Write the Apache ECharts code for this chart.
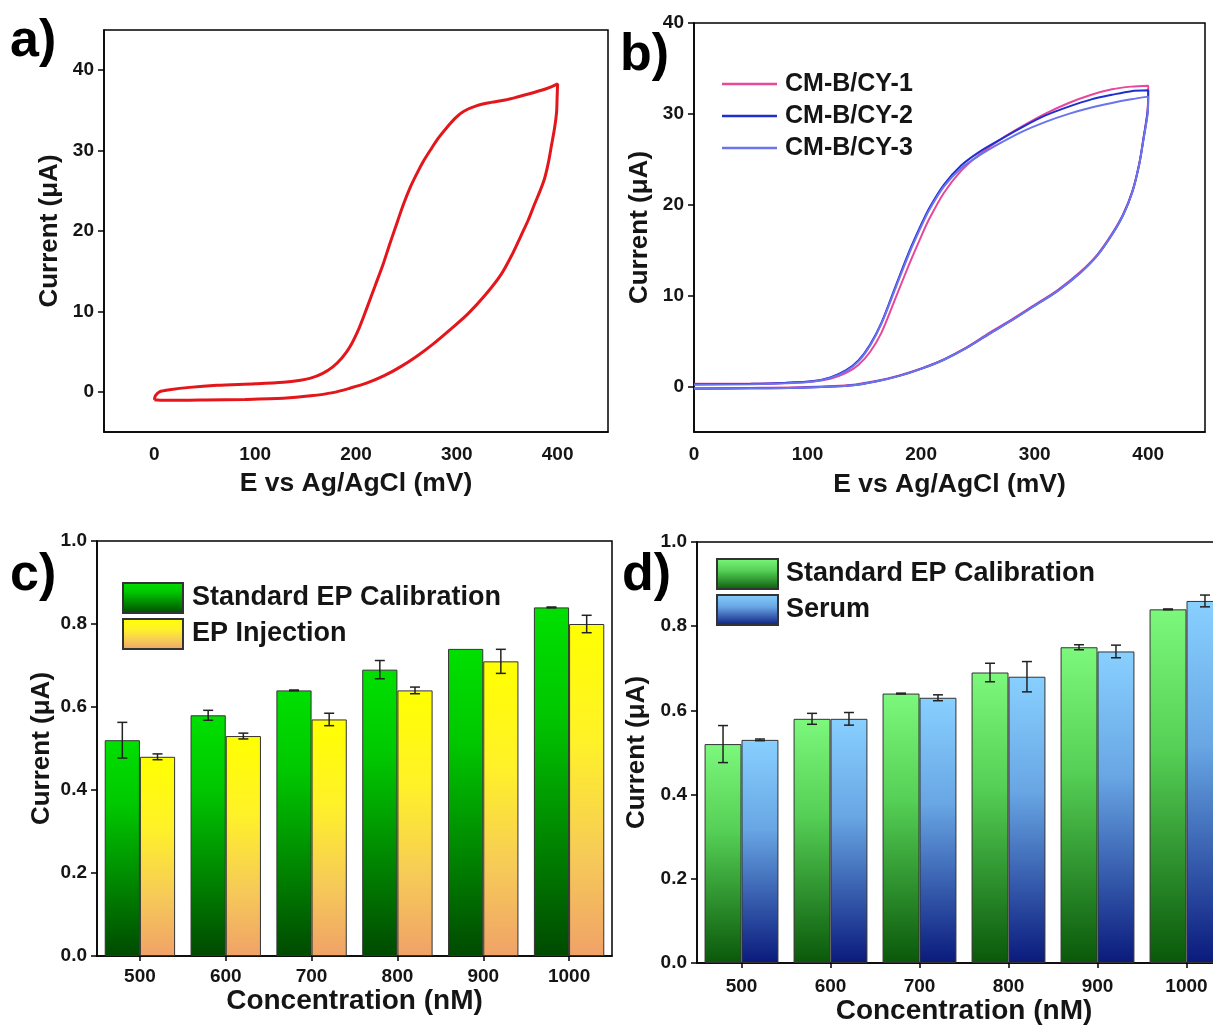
<!DOCTYPE html>
<html lang="en">
<head>
<meta charset="UTF-8">
<title>cv-and-bars</title>
<script src="https://cdn.jsdelivr.net/npm/echarts/dist/echarts.min.js"></script>
<style>html,body{margin:0;padding:0;background:#fff;}</style>
</head>
<body>
<div id="main" style="width:1213px;height:1025px;"></div>
<script>
// ---- panel a: single CV loop [E (mV), I (uA)]
var aForward = [[0,-1.0],[1,-0.5],[5,0.0],[15,0.25],[35,0.55],[62,0.8],[100,1.0],[128,1.2],[145,1.45],[155,1.7],[167,2.3],[177,3.1],[186,4.2],[194,5.6],[203,7.9],[211,10.5],[219,13.2],[227,15.9],[233,18.2],[239,20.4],[247,23.3],[254,25.5],[261,27.3],[267,28.7],[274,30.1],[282,31.6],[291,33.0],[299,34.1],[307,34.9],[320,35.6],[334,36.0],[348,36.3],[361,36.7],[373,37.1],[384,37.5],[393,37.9],[400,38.3]];
var aReverse = [[400,38.3],[399.5,36.5],[399,34.8],[397,32.8],[394,30.7],[391,28.6],[387,26.5],[382,24.8],[377,23.3],[371,21.4],[364,19.5],[355,17.1],[344,14.6],[328,12.0],[311,9.7],[294,7.8],[277,6.0],[260,4.4],[244,3.1],[228,2.0],[211,1.1],[194,0.45],[177,-0.1],[155,-0.5],[128,-0.8],[90,-0.95],[50,-1.02],[28,-1.05],[8,-1.05],[2,-1.02],[0,-1.0]];

// ---- panel b: three CV loops
var bNames = ['CM-B/CY-1', 'CM-B/CY-2', 'CM-B/CY-3'];
var b1Forward = [[0,0.3],[50,0.32],[80,0.4],[105,0.55],[120,0.85],[134,1.5],[145,2.4],[155,3.8],[165,5.9],[178,9.9],[190,13.6],[200,16.5],[207,18.4],[220,21.3],[235,23.7],[251,25.5],[270,27.2],[290,28.7],[309,30.0],[330,31.2],[350,32.1],[368,32.7],[385,33.0],[400,33.1]];
var b2Forward = [[0,0.25],[50,0.3],[80,0.4],[105,0.6],[120,1.0],[134,1.8],[145,2.9],[155,4.6],[165,7.0],[178,11.2],[190,15.0],[200,17.8],[207,19.6],[220,22.2],[235,24.3],[251,25.8],[270,27.2],[290,28.6],[309,29.8],[330,30.8],[350,31.6],[368,32.1],[385,32.5],[400,32.6]];
var b3Forward = [[0,0.2],[50,0.25],[80,0.35],[105,0.55],[120,0.95],[134,1.7],[145,2.8],[155,4.5],[165,6.9],[178,11.0],[190,14.8],[200,17.6],[207,19.4],[220,22.0],[235,24.0],[251,25.4],[270,26.8],[290,28.1],[309,29.1],[330,30.0],[350,30.7],[368,31.2],[385,31.6],[400,31.9]];
var b1Reverse = [[400,33.1],[399.5,30.5],[396,27.5],[392,24.5],[386,21.5],[378,19.0],[368,16.8],[355,14.5],[340,12.6],[320,10.6],[300,9.0],[280,7.4],[260,5.9],[240,4.3],[220,3.0],[200,2.0],[180,1.2],[160,0.6],[140,0.2],[100,-0.05],[50,-0.15],[0,-0.2]];
var b2Reverse = [[400,32.6],[399.5,30.3],[396,27.4],[392,24.4],[386,21.4],[378,18.9],[368,16.7],[355,14.4],[340,12.5],[320,10.5],[300,8.9],[280,7.3],[260,5.8],[240,4.25],[220,2.95],[200,1.95],[180,1.15],[160,0.55],[140,0.15],[100,-0.1],[50,-0.2],[0,-0.25]];
var b3Reverse = [[400,31.9],[399.5,30.0],[396,27.3],[392,24.4],[386,21.4],[378,18.9],[368,16.7],[355,14.4],[340,12.5],[320,10.5],[300,8.9],[280,7.3],[260,5.8],[240,4.25],[220,2.95],[200,1.95],[180,1.15],[160,0.55],[140,0.15],[100,-0.1],[50,-0.2],[0,-0.25]];

// ---- panels c, d: bars with error bars
var concLabels = ['500', '600', '700', '800', '900', '1000'];
var cStandard = [0.52, 0.58, 0.64, 0.69, 0.74, 0.84];
var cStandardErr = [0.043, 0.012, 0.001, 0.022, 0, 0.001];
var cInjection = [0.48, 0.53, 0.57, 0.64, 0.71, 0.80];
var cInjectionErr = [0.007, 0.007, 0.015, 0.008, 0.029, 0.021];
var dStandard = [0.52, 0.58, 0.64, 0.69, 0.75, 0.84];
var dStandardErr = [0.044, 0.013, 0.001, 0.022, 0.006, 0.001];
var dSerum = [0.53, 0.58, 0.63, 0.68, 0.74, 0.86];
var dSerumErr = [0.002, 0.015, 0.007, 0.036, 0.015, 0.014];

// tick labels
var cvXTicks = [0, 100, 200, 300, 400];
var aYTicks = [0, 10, 20, 30, 40];
var bYTicks = [0, 10, 20, 30, 40];

var FONT = '"Liberation Sans", Arial, sans-serif';
var INK = '#151515';
var GAP_C = 0.18, GAP_D = 0.17;

function grad(stops) {
    return new echarts.graphic.LinearGradient(0, 0, 0, 1, stops.map(function (s) {
        return {offset: s[0], color: s[1]};
    }));
}
var cGreen = grad([[0, '#00e000'], [0.3, '#00c800'], [1, '#004a00']]);
var cYellow = grad([[0, '#ffff00'], [0.35, '#fff228'], [0.7, '#f6ca58'], [1, '#f0a268']]);
var dGreen = grad([[0, '#7cf87c'], [0.4, '#55cf55'], [1, '#0a580a']]);
var dBlue = grad([[0, '#88d0ff'], [0.4, '#68a6e4'], [1, '#0a1a7c']]);

var axisLine = {show: true, onZero: false, lineStyle: {color: '#000', width: 1.5}};
var labelBase = {color: INK, fontSize: 19, fontWeight: 'bold', fontFamily: FONT};
var nameBase = {color: INK, fontSize: 24, fontWeight: 'bold', fontFamily: FONT};

function lbl(extra) { return Object.assign({}, labelBase, extra); }
function nm(size) { return Object.assign({}, nameBase, {fontSize: size}); }

function cvX(grid, min, max, gap) {
    return {
        gridIndex: grid, type: 'value', min: min, max: max,
        axisLine: axisLine, axisTick: {show: false}, splitLine: {show: false},
        axisLabel: lbl({margin: 13, customValues: cvXTicks, formatter: function (v) { return v % 100 === 0 ? v : ''; }}),
        name: 'E vs Ag/AgCl (mV)', nameLocation: 'middle', nameGap: gap, nameTextStyle: nm(26.5)
    };
}
function cvY(grid, min, max, ticks, gap) {
    return {
        gridIndex: grid, type: 'value', min: min, max: max,
        axisLine: axisLine, splitLine: {show: false},
        axisTick: {show: true, inside: false, length: 6, customValues: ticks, lineStyle: {color: '#000', width: 1.5}},
        axisLabel: lbl({margin: 10, customValues: ticks, formatter: function (v) { return v % 10 === 0 ? v : ''; }}),
        name: 'Current (\u03bcA)', nameLocation: 'middle', nameGap: gap, nameTextStyle: nm(26)
    };
}
function barX(grid, gap, margin) {
    return {
        gridIndex: grid, type: 'category', data: concLabels, boundaryGap: true,
        axisLine: axisLine, splitLine: {show: false},
        axisTick: {show: true, alignWithLabel: true, length: 5, lineStyle: {color: '#000', width: 1.5}},
        axisLabel: lbl({margin: margin}),
        name: 'Concentration (nM)', nameLocation: 'middle', nameGap: gap, nameTextStyle: nm(28)
    };
}
function barY(grid, gap) {
    return {
        gridIndex: grid, type: 'value', min: 0, max: 1, interval: 0.2,
        axisLine: axisLine, splitLine: {show: false},
        axisTick: {show: true, inside: false, length: 6, lineStyle: {color: '#000', width: 1.5}},
        axisLabel: lbl({margin: 10, formatter: function (v) { return v.toFixed(1); }}),
        name: 'Current (\u03bcA)', nameLocation: 'middle', nameGap: gap, nameTextStyle: nm(26)
    };
}

function cvLine(name, idx, pts, color, width) {
    return {
        name: name, type: 'line', xAxisIndex: idx, yAxisIndex: idx,
        data: pts, showSymbol: false, symbol: 'none', smooth: 0.3,
        lineStyle: {color: color, width: width}, itemStyle: {color: color}
    };
}
function bars(name, idx, vals, fill, gap) {
    return {
        name: name, type: 'bar', xAxisIndex: idx, yAxisIndex: idx, data: vals,
        barGap: '0%', barCategoryGap: (gap * 100) + '%',
        itemStyle: {color: fill, borderColor: '#333', borderWidth: 1}
    };
}
// error bars drawn at the centre of the left (side=-1) or right (side=1) bar
function errBars(idx, vals, errs, side, gap) {
    return {
        type: 'custom', xAxisIndex: idx, yAxisIndex: idx, z: 10, silent: true,
        encode: {x: 0, y: 1},
        data: vals.map(function (v, i) { return [i, v, errs[i]]; }),
        renderItem: function (params, api) {
            var e = api.value(2);
            if (!e) return null;
            var band = api.size([1, 0])[0];
            var bw = band * (1 - gap) / 2;
            var cx = api.coord([api.value(0), 0])[0] + side * bw / 2;
            var hi = api.coord([api.value(0), api.value(1) + e])[1];
            var lo = api.coord([api.value(0), api.value(1) - e])[1];
            var cap = 5;
            var st = {stroke: '#222', lineWidth: 1.5};
            return {
                type: 'group', children: [
                    {type: 'line', shape: {x1: cx, y1: hi, x2: cx, y2: lo}, style: st},
                    {type: 'line', shape: {x1: cx - cap, y1: hi, x2: cx + cap, y2: hi}, style: st},
                    {type: 'line', shape: {x1: cx - cap, y1: lo, x2: cx + cap, y2: lo}, style: st}
                ]
            };
        }
    };
}

function panelTag(text, x, y) {
    return {
        type: 'text', left: x, top: y,
        style: {text: text, font: 'bold 52px ' + FONT, fill: '#000'}
    };
}

var gridBase = {show: true, borderColor: '#000', borderWidth: 1.5, backgroundColor: 'transparent', containLabel: false, outerBoundsMode: 'none'};

var option = {
    backgroundColor: '#fff',
    animation: false,
    grid: [
        Object.assign({left: 104, top: 30, width: 504, height: 402}, gridBase),
        Object.assign({left: 694, top: 23, width: 511, height: 409}, gridBase),
        Object.assign({left: 97, top: 541, width: 515, height: 415}, gridBase),
        Object.assign({left: 697, top: 542, width: 534, height: 421}, gridBase)
    ],
    xAxis: [cvX(0, -50, 450, 38), cvX(1, 0, 450, 39), barX(2, 30, 11), barX(3, 32, 14)],
    yAxis: [cvY(0, -5, 45, aYTicks, 41), cvY(1, -5, 40, bYTicks, 41), barY(2, 42), barY(3, 47)],
    legend: [
        {
            left: 722, top: 71, orient: 'vertical', icon: 'rect', padding: 0,
            itemWidth: 55, itemHeight: 2.5, itemGap: 6,
            data: bNames, selectedMode: false,
            textStyle: {color: INK, fontSize: 25, lineHeight: 26, fontWeight: 'bold', fontFamily: FONT, padding: [0, 0, 0, 3]}
        },
        {
            left: 122, top: 582, orient: 'vertical', icon: 'rect', padding: 0,
            itemWidth: 60, itemHeight: 30, itemGap: 4, selectedMode: false,
            data: [{name: 'Standard EP Calibration', itemStyle: {color: cGreen}}, {name: 'EP Injection', itemStyle: {color: cYellow}}],
            textStyle: {color: INK, fontSize: 27, fontWeight: 'bold', fontFamily: FONT, padding: [0, 0, 0, 4]}
        },
        {
            left: 716, top: 558, orient: 'vertical', icon: 'rect', padding: 0,
            itemWidth: 61, itemHeight: 30, itemGap: 4, selectedMode: false,
            data: [{name: 'Standard EP Calibration', itemStyle: {color: dGreen}}, {name: 'Serum', itemStyle: {color: dBlue}}],
            textStyle: {color: INK, fontSize: 27, fontWeight: 'bold', fontFamily: FONT, padding: [0, 0, 0, 3]}
        }
    ],
    graphic: [panelTag('a)', 10, 16), panelTag('b)', 620, 30), panelTag('c)', 10, 550), panelTag('d)', 622, 550)],
    series: [
        cvLine('a', 0, aForward.concat(aReverse), '#e3161b', 3),
        cvLine(bNames[0], 1, b1Forward.concat(b1Reverse), '#e8479a', 2),
        cvLine(bNames[1], 1, b2Forward.concat(b2Reverse), '#1f2fcf', 2),
        cvLine(bNames[2], 1, b3Forward.concat(b3Reverse), '#6a74ec', 2),
        bars('Standard EP Calibration', 2, cStandard, cGreen, GAP_C),
        bars('EP Injection', 2, cInjection, cYellow, GAP_C),
        errBars(2, cStandard, cStandardErr, -1, GAP_C),
        errBars(2, cInjection, cInjectionErr, 1, GAP_C),
        bars('Standard EP Calibration', 3, dStandard, dGreen, GAP_D),
        bars('Serum', 3, dSerum, dBlue, GAP_D),
        errBars(3, dStandard, dStandardErr, -1, GAP_D),
        errBars(3, dSerum, dSerumErr, 1, GAP_D)
    ]
};

var chart = echarts.init(document.getElementById('main'));
chart.setOption(option);
</script>
</body>
</html>
